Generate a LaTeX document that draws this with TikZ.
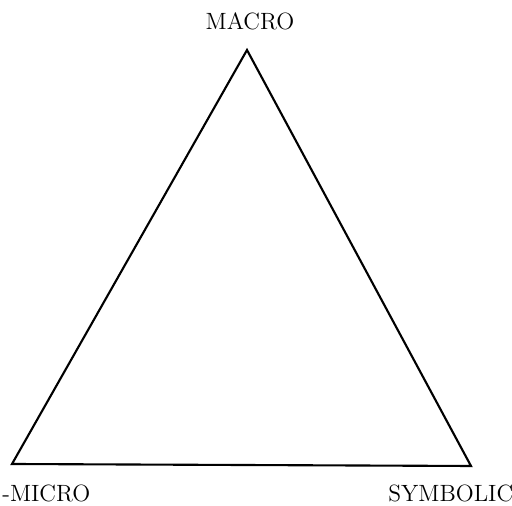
\documentclass[tikz,border=0pt]{standalone}
\usepackage{tikz}
\begin{document}
\begin{tikzpicture}[x=0.02cm,y=-0.02cm,
  corner label/.style={inner sep=0pt,font=\fontsize{13.4}{16}\selectfont}]
\useasboundingbox (0,0) rectangle (512,506);

    \coordinate (macro) at (247,50);
    \coordinate (micro) at (12,464);
    \coordinate (symbolic) at (471,466);

\draw[line width=1.2pt,line join=miter] (macro)--(micro)--(symbolic)--cycle;

    \node[corner label,anchor=base] (macroLabel) at (250,30) {MACRO};
    \node[corner label,anchor=base west] (microLabel) at (2,502) {-MICRO};
    \node[corner label,anchor=base west] (symbolicLabel) at (388,502) {SYMBOLIC};

\end{tikzpicture}
\end{document}
